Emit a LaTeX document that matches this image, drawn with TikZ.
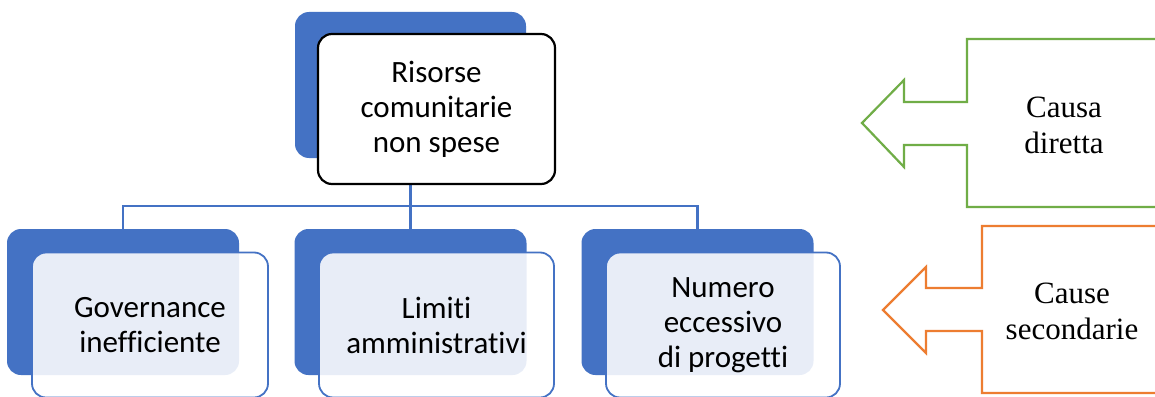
\documentclass[tikz,border=0pt]{standalone}
\usepackage{fontspec}
\setmainfont{Carlito}[Ligatures=NoCommon]
\newfontfamily\tnr{Liberation Serif}
\definecolor{accblue}{HTML}{4472C4}
\definecolor{accgreen}{HTML}{70AD47}
\definecolor{accorange}{HTML}{ED7D31}
\begin{document}
\begin{tikzpicture}[x=1pt,y=-1pt,
  backbox/.style={fill=accblue, draw=none, rounded corners=14pt, inner sep=0pt},
  topfront/.style={fill=white, draw=black, line width=2.2pt, rounded corners=14pt, inner sep=0pt,
    align=center, font=\fontsize{31}{35}\selectfont},
  front/.style={fill=white, fill opacity=0.88, text opacity=1, draw=accblue, line width=1.8pt,
    rounded corners=14pt, inner sep=0pt, align=center, font=\fontsize{31}{35}\selectfont},
  conn/.style={draw=accblue, line width=2.2pt},
  callout/.style={line width=2.2pt, line join=miter, fill=white},
  calltext/.style={align=center, font=\tnr\fontsize{31}{36}\selectfont}
]
\useasboundingbox (0,0) rectangle (1155,396);
\clip (0,0) rectangle (1155,396);
\fill[white] (0,0) rectangle (1155,396);

% back boxes
\node[backbox, minimum width=231pt, minimum height=146pt] (topb) at (410.5,85) {};
\node[backbox, minimum width=232pt, minimum height=146pt] (b1) at (123,302) {};
\node[backbox, minimum width=232pt, minimum height=146pt] (b2) at (410.5,302) {};
\node[backbox, minimum width=232pt, minimum height=146pt] (b3) at (697.5,302) {};

% connectors
\draw[conn] (topb.south) -- (b2.north);
\draw[conn] (b1.north) -- ++(0,-23) -| (b3.north);

% front boxes
\node[topfront, minimum width=237pt, minimum height=150pt] (topf) at (436.5,109)
  {Risorse\\comunitarie\\non spese};
\node[front, minimum width=236pt, minimum height=145pt] (f1) at (150,325)
  {Governance\\inefficiente};
\node[front, minimum width=235pt, minimum height=145pt] (f2) at (436.5,325)
  {Limiti\\amministrativi};
\node[front, minimum width=234pt, minimum height=145pt] (f3) at (723,325)
  {Numero\\eccessivo\\di progetti};

% right callouts
\draw[callout, draw=accgreen]
  (1170,39) -- (967,39) -- (967,102) -- (904,102) -- (904,80) -- (862,123)
  -- (904,167) -- (904,145) -- (967,145) -- (967,207) -- (1170,207);
\node[calltext] (c1) at (1064,125) {Causa\\diretta};

\draw[callout, draw=accorange]
  (1170,226) -- (982,226) -- (982,288) -- (926,288) -- (926,267) -- (883,310)
  -- (926,353) -- (926,331) -- (982,331) -- (982,393) -- (1170,393);
\node[calltext] (c2) at (1072,311) {Cause\\secondarie};
\end{tikzpicture}
\end{document}
